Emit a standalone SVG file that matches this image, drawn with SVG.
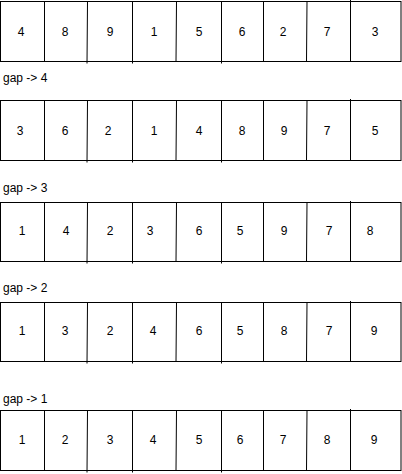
<svg xmlns="http://www.w3.org/2000/svg" width="402" height="474" viewBox="0 0 402 474">
<style>
.box{fill:#ffffff;stroke:#000000;stroke-width:1}
.div{stroke:#000000;stroke-width:1;fill:none}
.num{font-family:"Liberation Sans",Arial,sans-serif;font-size:12px;fill:#000000;text-anchor:middle}
.lbl{font-family:"Liberation Sans",Arial,sans-serif;font-size:12px;fill:#000000}
</style>
<rect width="402" height="474" fill="#ffffff"/>
<g id="row1" transform="translate(0,1)">
<rect class="box" x="0.5" y="0.5" width="400.5" height="60"/>
<path class="div" d="M44.5 0.5V60.5M87.5 0.5L87 62.5M132.5 0.5V62.5M176.5 0.5L176 60.5M221.5 0.5V62.5M263.5 0.5V60.5M307 0.5L306.5 60.5M350.5 -1V60.5"/>
<text class="num" x="21" y="35">4</text><text class="num" x="65" y="35">8</text><text class="num" x="110" y="35">9</text><text class="num" x="154" y="35">1</text><text class="num" x="199" y="35">5</text><text class="num" x="242" y="35">6</text><text class="num" x="283" y="35">2</text><text class="num" x="327" y="35">7</text><text class="num" x="375" y="35">3</text>
</g>
<text id="gap4" class="lbl" x="3" y="82">gap -&gt; 4</text>
<g id="row2" transform="translate(0,100)">
<rect class="box" x="0.5" y="0.5" width="400.5" height="60"/>
<path class="div" d="M44.5 0.5V60.5M87.5 0.5L87 62.5M132.5 0.5V62.5M176.5 0.5L176 60.5M221.5 0.5V62.5M263.5 0.5V60.5M307 0.5L306.5 60.5M350.5 -1V60.5"/>
<text class="num" x="20" y="35">3</text><text class="num" x="65" y="35">6</text><text class="num" x="108" y="35">2</text><text class="num" x="154" y="35">1</text><text class="num" x="199" y="35">4</text><text class="num" x="242" y="35">8</text><text class="num" x="284" y="35">9</text><text class="num" x="327" y="35">7</text><text class="num" x="375" y="35">5</text>
</g>
<text id="gap3" class="lbl" x="3" y="192">gap -&gt; 3</text>
<g id="row3" transform="translate(0,202)">
<rect class="box" x="0.5" y="0.5" width="400.5" height="59"/>
<path class="div" d="M44.5 0.5V59.5M87.5 0.5L87 61.5M132.5 0.5V61.5M176.5 0.5L176 59.5M221.5 0.5V61.5M263.5 0.5V59.5M307 0.5L306.5 59.5M350.5 -1V59.5"/>
<text class="num" x="22" y="33">1</text><text class="num" x="66" y="33">4</text><text class="num" x="110" y="33">2</text><text class="num" x="150" y="33">3</text><text class="num" x="199" y="33">6</text><text class="num" x="240" y="33">5</text><text class="num" x="284" y="33">9</text><text class="num" x="329" y="33">7</text><text class="num" x="370" y="33">8</text>
</g>
<text id="gap2" class="lbl" x="3" y="292">gap -&gt; 2</text>
<g id="row4" transform="translate(0,302)">
<rect class="box" x="0.5" y="0.5" width="400.5" height="59"/>
<path class="div" d="M44.5 0.5V59.5M87.5 0.5L87 61.5M132.5 0.5V61.5M176.5 0.5L176 59.5M221.5 0.5V61.5M263.5 0.5V59.5M307 0.5L306.5 59.5M350.5 -1V59.5"/>
<text class="num" x="22" y="33">1</text><text class="num" x="65" y="33">3</text><text class="num" x="110" y="33">2</text><text class="num" x="153" y="33">4</text><text class="num" x="199" y="33">6</text><text class="num" x="240" y="33">5</text><text class="num" x="284" y="33">8</text><text class="num" x="329" y="33">7</text><text class="num" x="374" y="33">9</text>
</g>
<text id="gap1" class="lbl" x="3" y="403">gap -&gt; 1</text>
<g id="row5" transform="translate(0,410)">
<rect class="box" x="0.5" y="0.5" width="400.5" height="60"/>
<path class="div" d="M44.5 0.5V60.5M87.5 0.5L87 62.5M132.5 0.5V62.5M176.5 0.5L176 60.5M221.5 0.5V62.5M263.5 0.5V60.5M307 0.5L306.5 60.5M350.5 -1V60.5"/>
<text class="num" x="22" y="34">1</text><text class="num" x="65" y="34">2</text><text class="num" x="110" y="34">3</text><text class="num" x="153" y="34">4</text><text class="num" x="199" y="34">5</text><text class="num" x="240" y="34">6</text><text class="num" x="283" y="34">7</text><text class="num" x="327" y="34">8</text><text class="num" x="374" y="34">9</text>
</g>
</svg>
